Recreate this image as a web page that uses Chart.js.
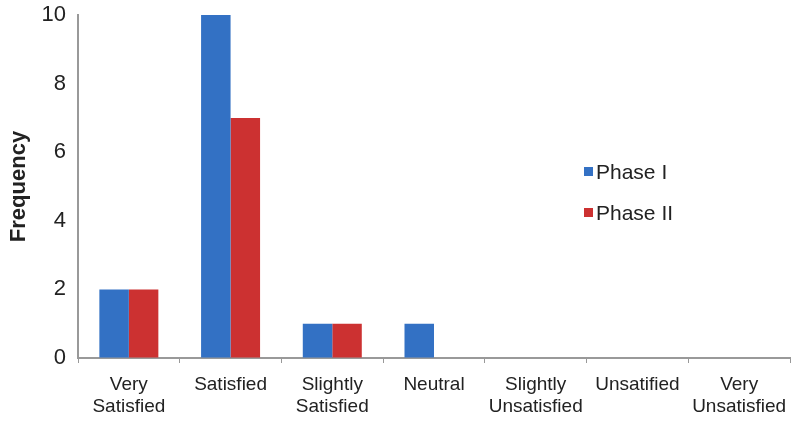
<!DOCTYPE html>
<html>
<head>
<meta charset="utf-8">
<script src="https://cdn.jsdelivr.net/npm/chart.js@4/dist/chart.umd.min.js"></script>
<style>
html,body{margin:0;padding:0;background:#fff;}
#wrap{width:800px;height:421px;position:relative;}
</style>
</head>
<body>
<div id="wrap"><canvas id="c" width="800" height="421"></canvas></div>
<script>
const categories = [["Very","Satisfied"],"Satisfied",["Slightly","Satisfied"],"Neutral",["Slightly","Unsatisfied"],"Unsatified",["Very","Unsatisfied"]];
const phase1 = [2, 10, 1, 1, 0, 0, 0];
const phase2 = [2, 7, 1, 0, 0, 0, 0];
const seriesNames = ["Phase I", "Phase II"];
const yTicks = [0, 2, 4, 6, 8, 10];

const FONT = "'Liberation Sans', Arial, sans-serif";
const BLUE = '#3371c4';
const RED = '#cc3131';

const legendPlugin = {
  id: 'innerLegend',
  afterDraw(chart) {
    const ctx = chart.ctx;
    ctx.save();
    ctx.font = '21px ' + FONT;
    ctx.textBaseline = 'middle';
    const ys = [172, 213];
    chart.data.datasets.forEach((ds, i) => {
      const y = ys[i];
      ctx.fillStyle = ds.backgroundColor;
      ctx.fillRect(584, y - 5, 9, 9);
      ctx.fillStyle = '#222';
      ctx.fillText(ds.label, 596, y + 1);
    });
    ctx.restore();
  }
};

new Chart(document.getElementById('c'), {
  type: 'bar',
  data: {
    labels: categories,
    datasets: [
      {label: seriesNames[0], data: phase1, backgroundColor: BLUE, borderWidth: 0},
      {label: seriesNames[1], data: phase2, backgroundColor: RED, borderWidth: 0}
    ]
  },
  options: {
    responsive: false,
    animation: false,
    devicePixelRatio: 1,
    layout: {padding: {left: 0, right: 10, top: 15, bottom: 0}},
    plugins: {legend: {display: false}, tooltip: {enabled: false}},
    datasets: {bar: {categoryPercentage: 0.58, barPercentage: 1.0}},
    scales: {
      x: {
        offset: true,
        grid: {display: true, drawOnChartArea: false, drawTicks: true, tickLength: 5, color: '#999', offset: true},
        border: {display: true, color: '#999', width: 2},
        ticks: {font: {size: 19, family: FONT, lineHeight: 1.2}, color: '#222', maxRotation: 0, autoSkip: false, padding: 10},
        afterFit(s) { s.height = 63; s.paddingLeft = 0; s.paddingRight = 0; }
      },
      y: {
        min: 0, max: 10,
        afterBuildTicks(s) { s.ticks = yTicks.map(v => ({value: v})); },
        grid: {display: true, drawOnChartArea: false, drawTicks: false},
        border: {display: true, color: '#999', width: 2},
        ticks: {font: {size: 22, family: FONT}, color: '#222', padding: 12},
        title: {display: true, text: 'Frequency', font: {size: 22, weight: 'bold', family: FONT}, color: '#222', padding: {top: 6, bottom: 10}},
        afterFit(s) { s.width = 78; s.paddingTop = 0; s.paddingBottom = 0; }
      }
    }
  },
  plugins: [legendPlugin]
});
</script>
</body>
</html>
